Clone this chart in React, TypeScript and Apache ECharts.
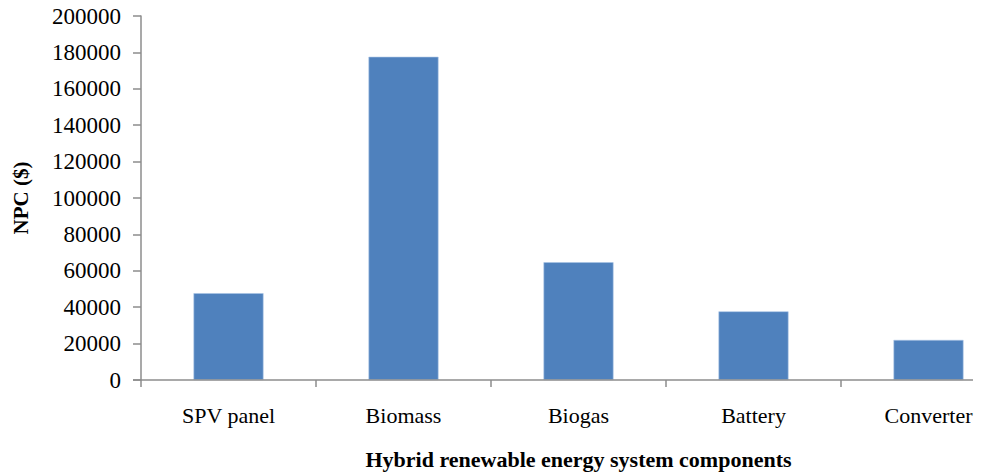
import React, { useEffect, useRef } from "react";
import * as echarts from "echarts";

// Net present cost of each component of the hybrid renewable energy system
const categories: string[] = ["SPV panel", "Biomass", "Biogas", "Battery", "Converter"];
const npcValues: number[] = [47700, 177600, 64700, 37700, 22000];

const yMin = 0;
const yMax = 200000;
const yStep = 20000;

const serif = "Liberation Serif";

export default function App() {
  const ref = useRef<HTMLDivElement>(null);

  useEffect(() => {
    if (!ref.current) return;
    const chart = echarts.init(ref.current, undefined, { renderer: "svg" });
    const axisGray = "#8c8c8c";
    chart.setOption({
      animation: false,
      backgroundColor: "#ffffff",
      grid: {
        left: 141,
        top: 16,
        height: 364,
        width: 875,
        containLabel: false,
        outerBoundsMode: "none",
      },
      xAxis: {
        type: "category",
        data: categories,
        name: "Hybrid renewable energy system components",
        nameLocation: "middle",
        nameGap: 68,
        nameTextStyle: { fontFamily: serif, fontSize: 22, fontWeight: "bold", color: "#000" },
        axisLine: { show: false },
        axisTick: { show: true, alignWithLabel: false, length: 7, lineStyle: { color: axisGray, width: 1.5 } },
        axisLabel: { margin: 24, fontFamily: serif, fontSize: 22, color: "#000" },
      },
      yAxis: {
        type: "value",
        min: yMin,
        max: yMax,
        interval: yStep,
        name: "NPC ($)",
        nameLocation: "middle",
        nameGap: 110,
        nameRotate: 90,
        nameTextStyle: { fontFamily: serif, fontSize: 21, fontWeight: "bold", color: "#000" },
        axisLine: { show: true, lineStyle: { color: axisGray, width: 1.5 } },
        axisTick: { show: true, inside: false, length: 8, lineStyle: { color: axisGray, width: 1.5 } },
        axisLabel: {
          margin: 20,
          fontFamily: serif,
          fontSize: 23,
          color: "#000",
          formatter: (v: number) => String(v),
        },
        splitLine: { show: false },
      },
      graphic: [
        {
          type: "line",
          shape: { x1: 133, y1: 380, x2: 973, y2: 380 },
          style: { stroke: axisGray, lineWidth: 1.5 },
          z: 10,
        },
      ],
      series: [
        {
          type: "bar",
          data: npcValues,
          barWidth: "40%",
          itemStyle: { color: "#4f81bd", borderColor: "#a9c4e6", borderWidth: 0.6 },
        },
      ],
    });
    return () => chart.dispose();
  }, []);

  return (
    <div
      ref={ref}
      style={{ position: "fixed", left: 0, top: 0, width: 984, height: 475, background: "#fff" }}
    />
  );
}
